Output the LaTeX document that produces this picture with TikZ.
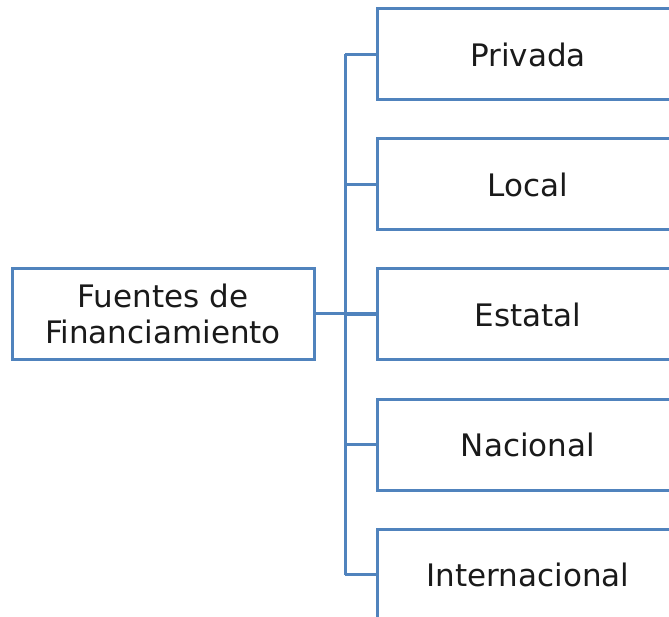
\documentclass[tikz,border=0pt]{standalone}
\usepackage{fontspec}
\setmainfont{DejaVu Sans}
\definecolor{boxblue}{RGB}{80,131,189}
\definecolor{txt}{RGB}{26,26,26}
\begin{document}
\begin{tikzpicture}[x=1pt,y=-1pt,
  box/.style={draw=boxblue, line width=3pt, fill=white, minimum width=302pt, minimum height=91pt, inner sep=0pt, text=txt, font=\fontsize{31}{36}\selectfont, align=center},
  conn/.style={draw=boxblue, line width=3pt}]
\useasboundingbox (0,0) rectangle (669,617);
\clip (0,0) rectangle (669,617);
\node[box] (main) at (163,314) {Fuentes de\\Financiamiento};
\node[box] (p1) at (528,54.5) {Privada};
\node[box] (p2) at (528,184.5) {Local};
\node[box] (p3) at (528,314.5) {Estatal};
\node[box] (p4) at (528,444.5) {Nacional};
\node[box] (p5) at (528,574.5) {Internacional};
\coordinate (trunk) at (345,314);
\draw[conn] (trunk |- p1.west) -- (trunk |- p5.west);
\draw[conn] (main.east) -- (main.east -| p3.west);
\foreach \n in {p1,p2,p3,p4,p5}{
  \draw[conn] (trunk |- \n.west) -- (\n.west);
}
\end{tikzpicture}
\end{document}
